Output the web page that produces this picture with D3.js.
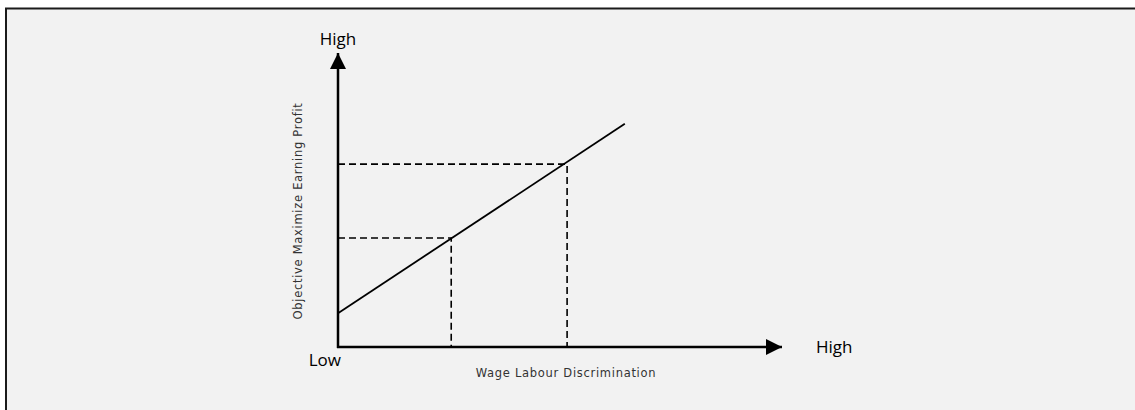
<!DOCTYPE html>
<html>
<head>
<meta charset="utf-8">
<script src="https://cdn.jsdelivr.net/npm/d3@7"></script>
<style>
  body { margin: 0; background: #fff; }
  .axis-end { font-family: "Open Sans", "Noto Sans", sans-serif; font-size: 17px; fill: #000; }
  .axis-title { font-family: "DejaVu Sans", sans-serif; font-size: 11.5px; letter-spacing: 0.7px; fill: #333; }
</style>
</head>
<body>
<svg id="chart"></svg>
<script>
// data (abstract units, 0-100 on both axes)
const lineData = [[0, 11.5], [64.6, 75.9]];
const markPoints = [[25.5, 37.1], [51.6, 62.2]];
const axisEnds = { yTop: 'High', origin: 'Low', xRight: 'High' };
const xTitle = 'Wage Labour Discrimination';
const yTitle = 'Objective Maximize Earning Profit';

const width = 1135, height = 410;
const svg = d3.select('#chart')
    .attr('width', width)
    .attr('height', height);

// frame (right and bottom edges fall outside the picture)
svg.append('rect')
    .attr('x', 6).attr('y', 8.5)
    .attr('width', 1140).attr('height', 420)
    .attr('fill', '#f2f2f2')
    .attr('stroke', '#1a1a1a')
    .attr('stroke-width', 2);

const xScale = d3.scaleLinear().domain([0, 100]).range([338, 782]);
const yScale = d3.scaleLinear().domain([0, 100]).range([347, 53]);

const defs = svg.append('defs');
defs.append('marker')
    .attr('id', 'arrow')
    .attr('viewBox', '0 0 10 10')
    .attr('refX', 10).attr('refY', 5)
    .attr('markerWidth', 16).attr('markerHeight', 16)
    .attr('markerUnits', 'userSpaceOnUse')
    .attr('orient', 'auto')
  .append('path')
    .attr('d', 'M0,0 L10,5 L0,10 Z')
    .attr('fill', '#000');

const g = svg.append('g');

// dashed guide lines
markPoints.forEach(p => {
  g.append('path')
      .attr('d', `M${xScale(0)},${yScale(p[1])} H${xScale(p[0])} V${yScale(0)}`)
      .attr('fill', 'none')
      .attr('stroke', '#000')
      .attr('stroke-width', 1.6)
      .attr('stroke-dasharray', '7,4');
});

// the relation line
const line = d3.line().x(d => xScale(d[0])).y(d => yScale(d[1]));
g.append('path')
    .datum(lineData)
    .attr('d', line)
    .attr('fill', 'none')
    .attr('stroke', '#000')
    .attr('stroke-width', 1.8);

// axes with arrows
g.append('line')
    .attr('x1', xScale(0)).attr('y1', yScale(0) + 1)
    .attr('x2', xScale(0)).attr('y2', yScale(100))
    .attr('stroke', '#000').attr('stroke-width', 2.5)
    .attr('marker-end', 'url(#arrow)');
g.append('line')
    .attr('x1', xScale(0) - 1).attr('y1', yScale(0))
    .attr('x2', xScale(100)).attr('y2', yScale(0))
    .attr('stroke', '#000').attr('stroke-width', 2.5)
    .attr('marker-end', 'url(#arrow)');

// axis end labels
g.append('text').attr('class', 'axis-end')
    .attr('x', xScale(0)).attr('y', 45)
    .attr('text-anchor', 'middle')
    .text(axisEnds.yTop);
g.append('text').attr('class', 'axis-end')
    .attr('x', 341).attr('y', 366)
    .attr('text-anchor', 'end')
    .text(axisEnds.origin);
g.append('text').attr('class', 'axis-end')
    .attr('x', 816).attr('y', 353)
    .text(axisEnds.xRight);

// axis titles
g.append('text').attr('class', 'axis-title')
    .attr('x', 566).attr('y', 377)
    .attr('text-anchor', 'middle')
    .text(xTitle);
g.append('text').attr('class', 'axis-title')
    .attr('transform', 'translate(302,211) rotate(-90)')
    .attr('text-anchor', 'middle')
    .text(yTitle);
</script>
</body>
</html>
